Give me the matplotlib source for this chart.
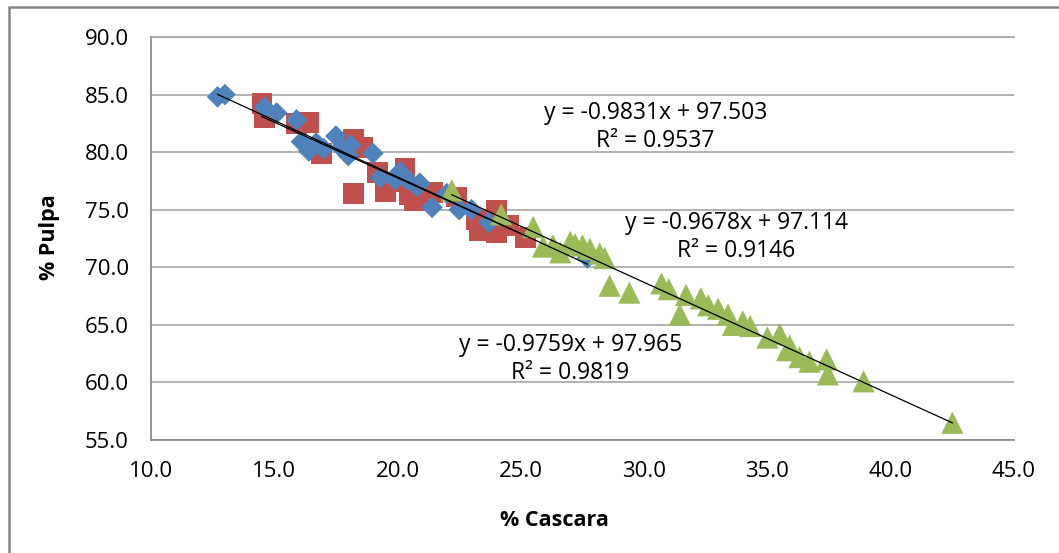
import numpy as np
import matplotlib.pyplot as plt
from matplotlib.patches import Rectangle

plt.rcParams['font.family'] = ['Open Sans', 'DejaVu Sans']

# series 1 (blue diamonds)
blue_x = [12.7, 13.0, 14.6, 15.1, 15.9, 16.1, 16.4, 16.7, 17.0, 17.5, 17.7, 18.0,
          18.1, 19.0, 19.3, 19.9, 20.1, 20.4, 20.8, 20.9, 21.4, 22.0, 22.5, 23.0,
          23.7, 27.7]
blue_y = [84.8, 85.0, 83.9, 83.4, 82.8, 80.9, 80.1, 80.8, 80.3, 81.4, 80.4, 79.7,
          80.6, 79.9, 77.8, 77.6, 78.3, 77.6, 77.0, 77.3, 75.2, 76.4, 75.0, 75.0,
          73.9, 70.8]

# series 2 (red squares)
red_x = [14.5, 14.6, 15.9, 16.4, 16.9, 18.1, 18.2, 18.2, 18.6, 19.2, 19.5, 19.9,
         20.3, 20.5, 20.7, 21.4, 22.4, 23.2, 23.3, 24.0, 24.0, 24.5, 25.2]
red_y = [84.2, 83.0, 82.5, 82.6, 79.9, 80.5, 81.1, 76.4, 80.4, 78.2, 76.6, 77.4,
         78.6, 76.3, 75.8, 76.5, 76.1, 74.1, 73.2, 74.9, 73.0, 73.6, 72.6]

# series 3 (green triangles)
green_x = [22.2, 24.2, 25.5, 25.9, 26.3, 26.6, 27.0, 27.2, 27.5, 27.8, 28.2, 28.4,
           28.6, 29.4, 30.7, 31.0, 31.45, 31.7, 32.3, 32.6, 33.0, 33.4, 33.6, 34.0,
           34.3, 35.0, 35.5, 35.8, 35.9, 36.3, 36.7, 37.4, 37.45, 38.9, 42.5]
green_y = [76.7, 74.6, 73.5, 71.8, 71.9, 71.3, 72.2, 72.0, 71.9, 71.6, 71.2, 70.8,
           68.4, 67.8, 68.6, 68.1, 65.9, 67.6, 67.3, 66.7, 66.4, 65.9, 65.0, 65.3,
           64.9, 63.9, 64.2, 62.8, 63.2, 62.2, 61.8, 62.0, 60.7, 60.1, 56.5]

# trendlines as printed on the chart
blue_fit = (-0.9831, 97.503, 0.9537)
red_fit = (-0.9678, 97.114, 0.9146)
green_fit = (-0.9759, 97.965, 0.9819)

fig = plt.figure(figsize=(10.59, 5.53), dpi=100)
ax = fig.add_axes([151/1059, 1-440/553, 863/1059, 403/553])

ax.scatter(red_x, red_y, marker='s', s=15**2, color='#c0504d', edgecolors='none', zorder=3)
ax.scatter(blue_x, blue_y, marker='D', s=11**2, color='#4f81bd', edgecolors='none', zorder=3)
ax.scatter(green_x, green_y, marker='^', s=16**2, color='#9bbb59', edgecolors='none', zorder=3)

for xs, fit in [(blue_x, blue_fit), (red_x, red_fit), (green_x, green_fit)]:
    xx = np.array([min(xs), max(xs)])
    ax.plot(xx, fit[0]*xx + fit[1], color='black', lw=0.9, zorder=4)

def eq_text(fit, x, y):
    ax.text(x, y, 'y = %.4fx + %.3f' % (fit[0], fit[1]), ha='center', va='center',
            fontsize=16.5, zorder=5)
    ax.text(x, y - 2.45, 'R² = %.4f' % fit[2], ha='center', va='center',
            fontsize=16.5, zorder=5)

eq_text(blue_fit, 30.45, 83.4)
eq_text(red_fit, 33.75, 73.85)
eq_text(green_fit, 27.0, 63.25)

ax.set_xlim(10, 45)
ax.set_ylim(55, 90)
ax.set_xticks(np.arange(10, 46, 5))
ax.set_yticks(np.arange(55, 91, 5))
ax.xaxis.set_major_formatter(plt.FormatStrFormatter('%.1f'))
ax.yaxis.set_major_formatter(plt.FormatStrFormatter('%.1f'))
ax.tick_params(length=0, labelsize=16, colors='black')
ax.tick_params(axis='y', pad=16)
ax.tick_params(axis='x', pad=15)
ax.yaxis.grid(True, color='#a6a6a6', lw=1.2)
ax.set_axisbelow(True)
ax.spines['right'].set_visible(False)
ax.spines['top'].set_color('#a6a6a6')
ax.spines['left'].set_color('#868686')
ax.spines['bottom'].set_color('#868686')
for s in ax.spines.values():
    s.set_linewidth(1.2)

fig.text(49/1059, 1-237/553, '% Pulpa', rotation=90, ha='center', va='center',
         fontsize=15.5, fontweight='bold')
fig.text(554/1059, 1-520/553, '% Cascara', ha='center', va='center',
         fontsize=15.5, fontweight='bold')

fig.add_artist(Rectangle((9/1059, -0.05), 1.1, 1-7/553+0.05, transform=fig.transFigure,
                         fill=False, ec='#868686', lw=1.8, clip_on=False))

plt.savefig('out.png', dpi=100)
